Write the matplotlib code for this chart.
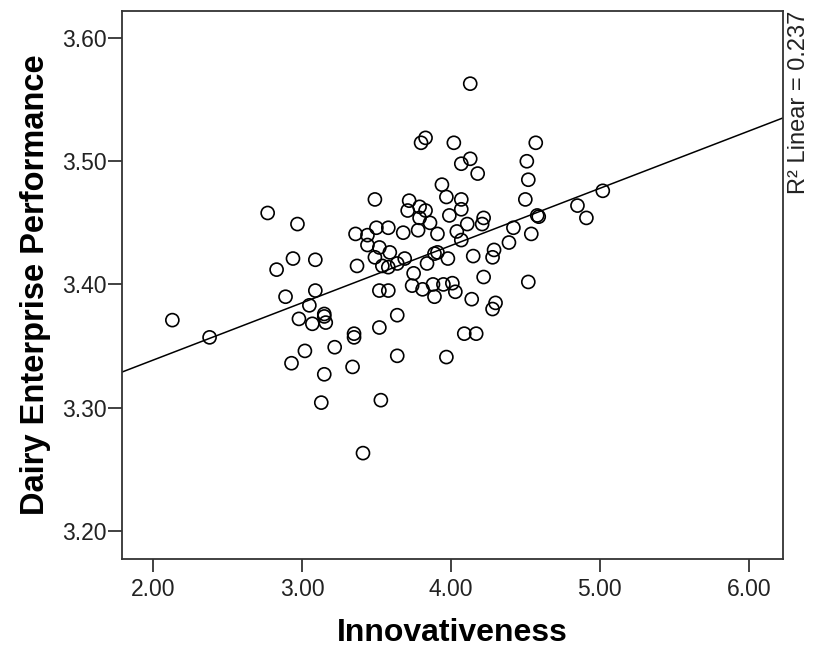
import matplotlib.pyplot as plt
import numpy as np

# values (Innovativeness vs. Dairy Enterprise Performance)
innov = [
    2.13, 2.38, 2.77, 2.97, 2.83, 2.94, 3.09, 2.89, 3.09, 3.05,
    2.98, 3.07, 3.15, 3.15, 3.16, 3.02, 2.93, 3.15, 3.13, 3.22,
    3.36, 3.37, 3.35, 3.35, 3.34, 3.41, 3.44, 3.44, 3.49, 3.50,
    3.52, 3.49, 3.54, 3.58, 3.58, 3.59, 3.52, 3.58, 3.52, 3.53,
    3.64, 3.64, 3.64, 3.69, 3.68, 3.72, 3.71,
    3.75, 3.74, 3.78, 3.79, 3.83, 3.79, 3.86, 3.80, 3.83, 3.81,
    3.84, 3.88, 3.89, 3.89, 3.91, 3.91, 3.94, 3.97, 3.95, 3.98,
    3.99, 4.02, 4.01, 4.03, 4.04, 4.07, 4.07, 4.07, 4.07, 3.97,
    4.09, 4.11, 4.13, 4.13, 4.14, 4.15, 4.17, 4.18, 4.21, 4.22,
    4.22, 4.28, 4.29, 4.28, 4.30,
    4.39, 4.42, 4.51, 4.52, 4.50, 4.52, 4.54, 4.58, 4.59, 4.57,
    4.85, 4.91, 5.02,
]
performance = [
    3.371, 3.357, 3.458, 3.449, 3.412, 3.421, 3.420, 3.390, 3.395, 3.383,
    3.372, 3.368, 3.376, 3.374, 3.369, 3.346, 3.336, 3.327, 3.304, 3.349,
    3.441, 3.415, 3.360, 3.357, 3.333, 3.263, 3.440, 3.432, 3.469, 3.446,
    3.430, 3.422, 3.415, 3.414, 3.446, 3.426, 3.395, 3.395, 3.365, 3.306,
    3.375, 3.342, 3.417, 3.421, 3.442, 3.468, 3.460,
    3.409, 3.399, 3.444, 3.463, 3.460, 3.454, 3.450, 3.515, 3.519, 3.396,
    3.417, 3.400, 3.390, 3.425, 3.426, 3.441, 3.481, 3.471, 3.400, 3.421,
    3.456, 3.515, 3.401, 3.394, 3.443, 3.498, 3.469, 3.461, 3.436, 3.341,
    3.360, 3.449, 3.563, 3.502, 3.388, 3.423, 3.360, 3.490, 3.449, 3.454,
    3.406, 3.422, 3.428, 3.380, 3.385,
    3.434, 3.446, 3.500, 3.485, 3.469, 3.402, 3.441, 3.456, 3.455, 3.515,
    3.464, 3.454, 3.476,
]

# fit line as drawn in the reference
fit_slope = 0.0465
fit_intercept = 3.2455
r2_text = "R² Linear = 0.237"

x_ticks = [2.0, 3.0, 4.0, 5.0, 6.0]
y_ticks = [3.2, 3.3, 3.4, 3.5, 3.6]

plt.rcParams["font.family"] = ["Liberation Sans", "DejaVu Sans"]

fig = plt.figure(figsize=(8.13, 6.52), dpi=100)
ax = fig.add_axes([0.1497, 0.1426, 0.8134, 0.8405])

xlim = (1.79, 6.23)
ylim = (3.177, 3.622)

ax.scatter(innov, performance, s=88, facecolors="none", edgecolors="black", linewidths=1.2, zorder=3)

xs = np.array(xlim)
ax.plot(xs, fit_intercept + fit_slope * xs, color="black", linewidth=1.1, zorder=2)

ax.set_xlim(*xlim)
ax.set_ylim(*ylim)
ax.set_xticks(x_ticks)
ax.set_yticks(y_ticks)
ax.set_xticklabels([f"{v:.2f}" for v in x_ticks])
ax.set_yticklabels([f"{v:.2f}" for v in y_ticks])

for sp in ax.spines.values():
    sp.set_color("#333333")
    sp.set_linewidth(1.3)

ax.tick_params(axis="x", direction="out", length=9, width=1.3, color="#333333",
               labelsize=16.5, pad=5, labelcolor="#222222")
ax.tick_params(axis="y", direction="out", length=10, width=1.3, color="#333333",
               labelsize=16.5, pad=1, labelcolor="#222222")

ax.set_xlabel("Innovativeness", fontsize=23, fontweight="bold", labelpad=12)
ax.set_ylabel("Dairy Enterprise Performance", fontsize=23.5, fontweight="bold", labelpad=8)

ax.text(1.008, 1.0, r2_text, transform=ax.transAxes, rotation=90,
        ha="left", va="top", fontsize=17, color="#222222")

plt.savefig("out.png", dpi=100)
